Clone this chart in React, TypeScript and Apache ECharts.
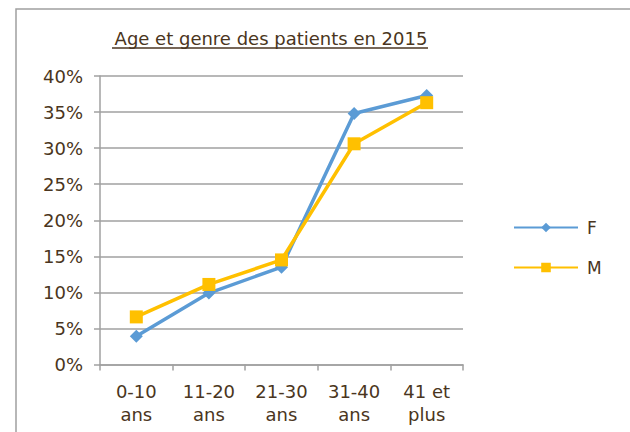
import React, { useEffect, useRef } from "react";
import * as echarts from "echarts";

const categories = ["0-10\nans", "11-20\nans", "21-30\nans", "31-40\nans", "41 et\nplus"];
const seriesF = [3.9, 9.9, 13.5, 34.8, 37.3];
const seriesM = [6.6, 11.1, 14.5, 30.6, 36.3];
const titleText = "Age et genre des patients en 2015";

const textColor = "#4a3520";
const font = "DejaVu Sans";

export default function App() {
  const ref = useRef<HTMLDivElement>(null);
  useEffect(() => {
    const chart = echarts.init(ref.current!, null, { renderer: "svg" });
    chart.setOption({
      animation: false,
      backgroundColor: "#ffffff",
      title: {
        text: titleText,
        left: 266,
        textAlign: "center",
        top: 24,
        textStyle: { color: textColor, fontSize: 18, fontWeight: "normal", fontFamily: font },
      },
      graphic: [
        {
          type: "rect",
          shape: { x: 16, y: 9, width: 700, height: 500 },
          style: { fill: "none", stroke: "#a0a0a0", lineWidth: 1.5 },
          silent: true,
        },
        {
          type: "line",
          shape: { x1: 112, y1: 48, x2: 428, y2: 48 },
          style: { stroke: textColor, lineWidth: 1.5 },
        },
      ],
      legend: {
        orient: "vertical",
        left: 508,
        top: 214,
        itemWidth: 64,
        itemHeight: 12,
        itemGap: 23,
        textStyle: { color: textColor, fontSize: 17, fontFamily: font, padding: [0, 0, 0, 4] },
        data: ["F", "M"],
      },
      grid: { left: 100, right: 167, top: 76, bottom: 67.5, containLabel: false },
      xAxis: {
        type: "category",
        data: categories,
        boundaryGap: true,
        axisLine: { lineStyle: { color: "#a0a0a0", width: 1.5 } },
        axisTick: { show: true, length: 6, lineStyle: { color: "#a0a0a0", width: 1.5 } },
        axisLabel: {
          color: textColor,
          fontSize: 18,
          fontFamily: font,
          lineHeight: 23,
          margin: 15,
          interval: 0,
        },
      },
      yAxis: {
        type: "value",
        min: 0,
        max: 40,
        interval: 5,
        axisLine: { show: true, lineStyle: { color: "#a0a0a0", width: 1.5 } },
        axisTick: { show: true, length: 6, lineStyle: { color: "#a0a0a0", width: 1.5 } },
        splitLine: { lineStyle: { color: "#a0a0a0", width: 1.5 } },
        axisLabel: {
          color: textColor,
          fontSize: 18,
          fontFamily: font,
          margin: 17,
          formatter: (v: number) => v + "%",
        },
      },
      series: [
        {
          name: "F",
          type: "line",
          data: seriesF,
          symbol: "diamond",
          symbolSize: 13,
          color: "#5b9bd5",
          lineStyle: { width: 3.5, color: "#5b9bd5" },
          itemStyle: { color: "#5b9bd5" },
        },
        {
          name: "M",
          type: "line",
          data: seriesM,
          symbol: "rect",
          symbolSize: 13,
          color: "#ffc000",
          lineStyle: { width: 3.5, color: "#ffc000" },
          itemStyle: { color: "#ffc000" },
        },
      ],
    });
    return () => chart.dispose();
  }, []);
  return <div ref={ref} style={{ width: 630, height: 432, position: "absolute", left: 0, top: 0 }} />;
}
